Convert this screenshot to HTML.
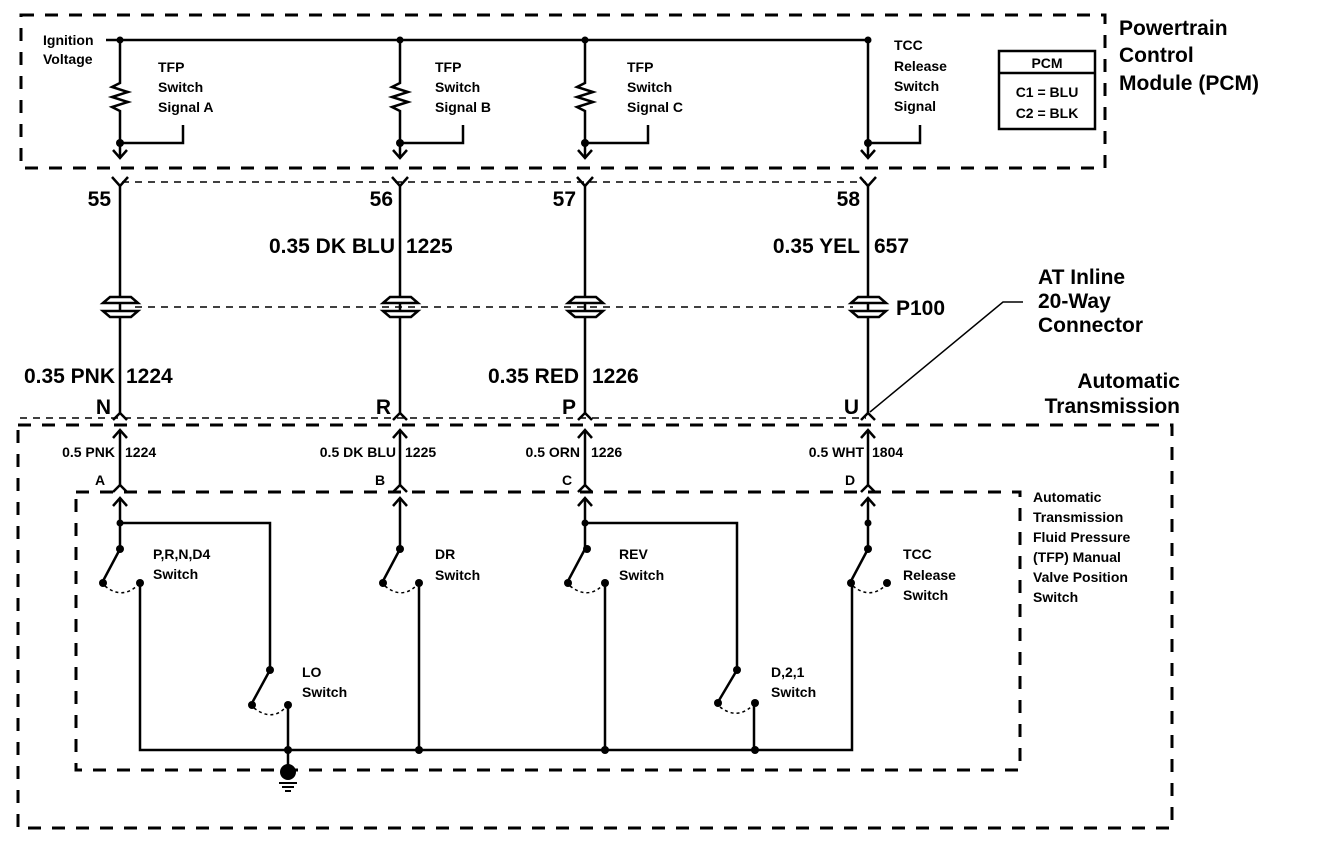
<!DOCTYPE html>
<html><head><meta charset="utf-8"><style>
html,body{margin:0;padding:0;background:#fff;}
svg{display:block;}
text{font-family:"Liberation Sans",Arial,sans-serif;fill:#000;font-weight:bold;}
</style></head><body>
<svg width="1328" height="862" viewBox="0 0 1328 862" xmlns="http://www.w3.org/2000/svg">
<g fill="none" stroke="#000">
<rect x="21" y="15" width="1084" height="153" stroke-width="3" stroke-dasharray="13,11"/>
<rect x="18" y="425" width="1154" height="403" stroke-width="3" stroke-dasharray="13,11"/>
<rect x="76" y="492" width="944" height="278" stroke-width="3" stroke-dasharray="13,11"/>
<line x1="122" y1="182" x2="866" y2="182" stroke-width="1.5" stroke-dasharray="7,6"/>
<line x1="135" y1="307" x2="853" y2="307" stroke-width="1.5" stroke-dasharray="7,6"/>
<line x1="20" y1="418" x2="866" y2="418" stroke-width="1.5" stroke-dasharray="7,6"/>
<polyline points="106,40 868,40" stroke-width="2.5"/>
<g stroke-width="2.5">
<path d="M120,40 V83 l-8,4 l16,5 l-16,5 l16,5 l-16,5 l8,4 V157"/>
<path d="M400,40 V83 l-8,4 l16,5 l-16,5 l16,5 l-16,5 l8,4 V157"/>
<path d="M585,40 V83 l-8,4 l16,5 l-16,5 l16,5 l-16,5 l8,4 V157"/>
<path d="M868,40 V157"/>
<path d="M120,143 H183 V125"/>
<path d="M400,143 H463 V125"/>
<path d="M585,143 H648 V125"/>
<path d="M868,143 H920 V125"/>
<path d="M113,150 L120,158 L127,150 M393,150 L400,158 L407,150 M578,150 L585,158 L592,150 M861,150 L868,158 L875,150"/>
<path d="M112,177 L120,186 L128,177 M392,177 L400,186 L408,177 M577,177 L585,186 L593,177 M860,177 L868,186 L876,177"/>
<path d="M120,186 V413 M400,186 V413 M585,186 V413 M868,186 V413"/>
<path d="M113,420 L120,413 L127,420 M393,420 L400,413 L407,420 M578,420 L585,413 L592,420 M861,420 L868,413 L875,420"/>
<path d="M120,430 V485 M400,430 V485 M585,430 V485 M868,430 V485"/>
<path d="M113,438 L120,430 L127,438 M393,438 L400,430 L407,438 M578,438 L585,430 L592,438 M861,438 L868,430 L875,438"/>
<path d="M113,492 L120,485 L127,492 M393,492 L400,485 L407,492 M578,492 L585,485 L592,492 M861,492 L868,485 L875,492"/>
<path d="M120,498 V548 M400,498 V548 M585,498 V548 M868,498 V548"/>
<path d="M113,506 L120,498 L127,506 M393,506 L400,498 L407,506 M578,506 L585,498 L592,506 M861,506 L868,498 L875,506"/>
<path d="M870,412 L1003,302 H1023" stroke-width="1.5"/>
<path d="M120,523 H270 V670"/>
<path d="M585,523 H737 V670"/>
<path d="M120,549 L103,581 M400,549 L383,581 M585,549 L568,581 M270,670 L252,703 M737,670 L718,702 M868,549 L851,581"/>
<path d="M140,581 V750 H852 V581"/>
<path d="M419,581 V750 M605,581 V750 M288,704 V772 M754,702 V750"/>
</g>
<g stroke-width="1.5" stroke-dasharray="3,3">
<path d="M105,586 Q122,600 138,585"/>
<path d="M385,586 Q402,600 417,585"/>
<path d="M570,586 Q588,600 603,585"/>
<path d="M254,708 Q272,722 286,707"/>
<path d="M720,707 Q737,720 752,706"/>
<path d="M853,586 Q870,600 886,585"/>
</g>
<g stroke-width="2.5" fill="#fff">
<path d="M103,303 L110,297 H131 L138,303 Z M103,311 L110,317 H131 L138,311 Z"/>
<path d="M383,303 L390,297 H411 L418,303 Z M383,311 L390,317 H411 L418,311 Z"/>
<path d="M568,303 L575,297 H596 L603,303 Z M568,311 L575,317 H596 L603,311 Z"/>
<path d="M851,303 L858,297 H879 L886,303 Z M851,311 L858,317 H879 L886,311 Z"/>
</g>
<rect x="999" y="51" width="96" height="78" stroke-width="2.5"/>
<line x1="999" y1="73" x2="1095" y2="73" stroke-width="2.5"/>
</g>
<g fill="#000">
<circle cx="120" cy="40" r="3.5"/><circle cx="400" cy="40" r="3.5"/><circle cx="585" cy="40" r="3.5"/><circle cx="868" cy="40" r="3.5"/>
<circle cx="120" cy="143" r="4"/><circle cx="400" cy="143" r="4"/><circle cx="585" cy="143" r="4"/><circle cx="868" cy="143" r="4"/>
<circle cx="120" cy="523" r="3.5"/><circle cx="585" cy="523" r="3.5"/><circle cx="868" cy="523" r="3.5"/>
<circle cx="120" cy="549" r="4"/><circle cx="400" cy="549" r="4"/><circle cx="587" cy="549" r="4"/><circle cx="868" cy="549" r="4"/>
<circle cx="270" cy="670" r="4"/><circle cx="737" cy="670" r="4"/>
<circle cx="103" cy="583" r="4"/><circle cx="140" cy="583" r="4"/>
<circle cx="383" cy="583" r="4"/><circle cx="419" cy="583" r="4"/>
<circle cx="568" cy="583" r="4"/><circle cx="605" cy="583" r="4"/>
<circle cx="851" cy="583" r="4"/><circle cx="887" cy="583" r="4"/>
<circle cx="252" cy="705" r="4"/><circle cx="288" cy="705" r="4"/>
<circle cx="718" cy="703" r="4"/><circle cx="755" cy="703" r="4"/>
<circle cx="288" cy="750" r="4"/><circle cx="419" cy="750" r="4"/><circle cx="605" cy="750" r="4"/><circle cx="755" cy="750" r="4"/>
<circle cx="288" cy="772" r="8"/>
<rect x="279" y="782" width="18" height="2"/><rect x="282" y="786" width="12" height="2"/><rect x="285" y="790" width="6" height="2"/>
</g>
<g font-size="14">
<text x="43" y="45">Ignition</text><text x="43" y="64">Voltage</text>
<text x="158" y="72">TFP</text><text x="158" y="92">Switch</text><text x="158" y="112">Signal A</text>
<text x="435" y="72">TFP</text><text x="435" y="92">Switch</text><text x="435" y="112">Signal B</text>
<text x="627" y="72">TFP</text><text x="627" y="92">Switch</text><text x="627" y="112">Signal C</text>
<text x="894" y="50">TCC</text><text x="894" y="71">Release</text><text x="894" y="91">Switch</text><text x="894" y="111">Signal</text>
<text x="1047" y="68" text-anchor="middle">PCM</text>
<text x="1047" y="97" text-anchor="middle">C1 = BLU</text>
<text x="1047" y="118" text-anchor="middle">C2 = BLK</text>
</g>
<g font-size="21">
<text x="1119" y="35">Powertrain</text><text x="1119" y="62">Control</text><text x="1119" y="90">Module (PCM)</text>
<text x="1038" y="284">AT Inline</text><text x="1038" y="308">20-Way</text><text x="1038" y="332">Connector</text>
<text x="1180" y="388" text-anchor="end">Automatic</text><text x="1180" y="413" text-anchor="end">Transmission</text>
<text x="896" y="315">P100</text>
<text x="111" y="206" text-anchor="end">55</text><text x="393" y="206" text-anchor="end">56</text>
<text x="576" y="206" text-anchor="end">57</text><text x="860" y="206" text-anchor="end">58</text>
<text x="395" y="253" text-anchor="end">0.35 DK BLU</text><text x="406" y="253">1225</text>
<text x="860" y="253" text-anchor="end">0.35 YEL</text><text x="874" y="253">657</text>
<text x="115" y="383" text-anchor="end">0.35 PNK</text><text x="126" y="383">1224</text>
<text x="579" y="383" text-anchor="end">0.35 RED</text><text x="592" y="383">1226</text>
<text x="111" y="414" text-anchor="end">N</text><text x="391" y="414" text-anchor="end">R</text>
<text x="576" y="414" text-anchor="end">P</text><text x="859" y="414" text-anchor="end">U</text>
</g>
<g font-size="14">
<text x="115" y="457" text-anchor="end">0.5 PNK</text><text x="125" y="457">1224</text>
<text x="396" y="457" text-anchor="end">0.5 DK BLU</text><text x="405" y="457">1225</text>
<text x="580" y="457" text-anchor="end">0.5 ORN</text><text x="591" y="457">1226</text>
<text x="864" y="457" text-anchor="end">0.5 WHT</text><text x="872" y="457">1804</text>
<text x="95" y="485">A</text><text x="375" y="485">B</text><text x="562" y="485">C</text><text x="845" y="485">D</text>
<text x="153" y="559">P,R,N,D4</text><text x="153" y="579">Switch</text>
<text x="435" y="559">DR</text><text x="435" y="580">Switch</text>
<text x="619" y="559">REV</text><text x="619" y="580">Switch</text>
<text x="903" y="559">TCC</text><text x="903" y="580">Release</text><text x="903" y="600">Switch</text>
<text x="302" y="677">LO</text><text x="302" y="697">Switch</text>
<text x="771" y="677">D,2,1</text><text x="771" y="697">Switch</text>
<text x="1033" y="502">Automatic</text><text x="1033" y="522">Transmission</text><text x="1033" y="542">Fluid Pressure</text>
<text x="1033" y="562">(TFP) Manual</text><text x="1033" y="582">Valve Position</text><text x="1033" y="602">Switch</text>
</g>
</svg>
</body></html>
